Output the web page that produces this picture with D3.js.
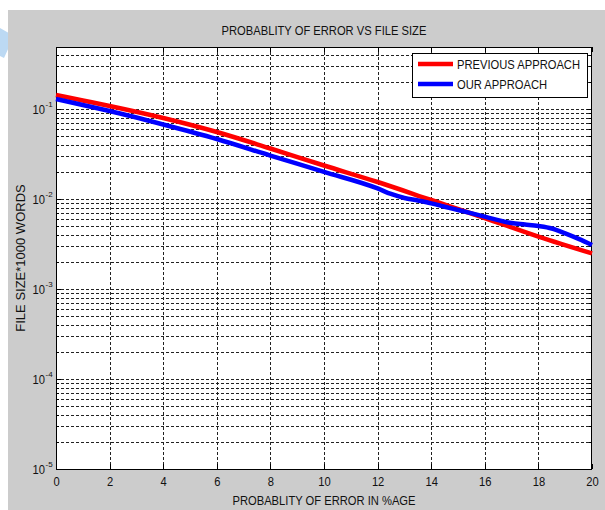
<!DOCTYPE html>
<html>
<head>
<meta charset="utf-8">
<script src="https://cdn.jsdelivr.net/npm/d3@7"></script>
<style>
  body { margin: 0; background: #fff; }
  svg text { font-family: "Liberation Sans", Arial, sans-serif; fill: #111; }
</style>
</head>
<body>
<script>
// values
const xPrev = [0, 1, 2, 4, 6, 8, 10, 12, 14, 16, 18, 20];
const yPrev = [0.1431, 0.1243, 0.108, 0.0794, 0.0555, 0.0364, 0.02357, 0.01545, 0.00975, 0.00615, 0.00383, 0.00249];
const xOur = [0, 1, 2, 4, 6, 8, 10, 12, 12.5, 13, 13.5, 14, 14.5, 15, 16, 17, 17.5, 18, 18.5, 19, 19.5, 20];
const yOur = [0.1291, 0.1108, 0.095, 0.0673, 0.0464, 0.0304, 0.02, 0.0131, 0.01137, 0.01026, 0.00962, 0.00895, 0.00821, 0.00755, 0.00637, 0.00541, 0.00521, 0.00501, 0.0047, 0.00414, 0.0036, 0.00308];
const seriesNames = ["PREVIOUS APPROACH", "OUR APPROACH"];
const seriesColors = ["#ff0000", "#0000ff"];
const xTicks = [0, 2, 4, 6, 8, 10, 12, 14, 16, 18, 20];
const yMajor = [1e-5, 1e-4, 1e-3, 1e-2, 1e-1];
const yExps = ["-5", "-4", "-3", "-2", "-1"];

const W = 605, H = 510;
const plotLeft = 56, plotRight = 592, plotTop = 47, plotBottom = 469;
const squeeze = 0.86;

const svg = d3.select("body").append("svg")
    .attr("width", W)
    .attr("height", H);

// figure background
svg.append("polygon").attr("points", "0,28 14,36 4,58 0,56").attr("fill", "#bcd9f3");
svg.append("rect").attr("x", 8).attr("y", 10).attr("width", W - 8).attr("height", H - 10).attr("fill", "#cccccc");

const x = d3.scaleLinear().domain([0, 20]).range([plotLeft, plotRight]);
const y = d3.scaleLog().domain([1e-5, Math.pow(10, -5 + (plotBottom - plotTop) / 90)]).range([plotBottom, plotTop]);

svg.append("rect")
    .attr("x", plotLeft).attr("y", plotTop)
    .attr("width", plotRight - plotLeft).attr("height", plotBottom - plotTop)
    .attr("fill", "#fff");

function condense(sel, f) {
    sel.each(function() {
        let len = this.getComputedTextLength();
        d3.select(this).attr("textLength", len * f).attr("lengthAdjust", "spacingAndGlyphs");
    });
}

// all log gridlines (majors + minors)
let yGrid = [];
for (let e = -5; e <= -1; e++) {
    for (let m = 1; m <= 9; m++) {
        let v = m * Math.pow(10, e);
        if (v <= y.domain()[1]) yGrid.push(v);
    }
}

svg.append("g").selectAll("line")
    .data(yGrid.filter(d => d > 1e-5))
    .enter().append("line")
    .attr("x1", plotLeft).attr("x2", plotRight)
    .attr("y1", d => Math.round(y(d)) + 0.5).attr("y2", d => Math.round(y(d)) + 0.5)
    .attr("stroke", "#222").attr("stroke-width", 1)
    .attr("stroke-dasharray", "3,2");

svg.append("g").selectAll("line")
    .data(xTicks.slice(1, -1))
    .enter().append("line")
    .attr("x1", d => Math.round(x(d)) + 0.5).attr("x2", d => Math.round(x(d)) + 0.5)
    .attr("y1", plotTop).attr("y2", plotBottom)
    .attr("stroke", "#222").attr("stroke-width", 1)
    .attr("stroke-dasharray", "3,2");

// tick marks, inside the box
let tickG = svg.append("g").attr("stroke", "#000").attr("stroke-width", 1);
xTicks.forEach(function(d) {
    let px = Math.round(x(d)) + 0.5;
    tickG.append("line").attr("x1", px).attr("x2", px).attr("y1", plotBottom).attr("y2", plotBottom - 5);
    tickG.append("line").attr("x1", px).attr("x2", px).attr("y1", plotTop).attr("y2", plotTop + 5);
});
yGrid.forEach(function(d) {
    let py = Math.round(y(d)) + 0.5;
    let len = yMajor.indexOf(d) >= 0 ? 5 : 3;
    tickG.append("line").attr("x1", plotLeft).attr("x2", plotLeft + len).attr("y1", py).attr("y2", py);
    tickG.append("line").attr("x1", plotRight).attr("x2", plotRight - len).attr("y1", py).attr("y2", py);
});

// x tick labels via axis
let xAxis = svg.append("g")
    .attr("transform", "translate(0," + plotBottom + ")")
    .call(d3.axisBottom(x).tickValues(xTicks).tickSize(0).tickPadding(8).tickFormat(d3.format("d")));
xAxis.select(".domain").remove();
xAxis.selectAll("text").attr("font-size", 13).attr("font-family", null).call(condense, squeeze);

// y tick labels 10^n : base and exponent as separate texts
let yLab = svg.append("g");
yLab.selectAll("text.base")
    .data(yMajor)
    .enter().append("text")
    .attr("class", "base")
    .attr("x", 45)
    .attr("y", d => y(d) + 5)
    .attr("text-anchor", "end")
    .attr("font-size", 13)
    .text("10")
    .call(condense, squeeze);
yLab.selectAll("text.exp")
    .data(yMajor)
    .enter().append("text")
    .attr("class", "exp")
    .attr("x", 45.5)
    .attr("y", d => y(d) - 2)
    .attr("font-size", 8)
    .text((d, i) => yExps[i]);

// box
svg.append("rect")
    .attr("x", plotLeft + 0.5).attr("y", plotTop + 0.5)
    .attr("width", plotRight - plotLeft - 1).attr("height", plotBottom - plotTop)
    .attr("fill", "none").attr("stroke", "#000").attr("stroke-width", 1);

// series
const line = d3.line().curve(d3.curveMonotoneX).x(d => x(d[0])).y(d => y(d[1]));
const series = [d3.zip(xPrev, yPrev), d3.zip(xOur, yOur)];
series.forEach(function(s, i) {
    svg.append("path")
        .datum(s)
        .attr("d", line)
        .attr("fill", "none")
        .attr("stroke", seriesColors[i])
        .attr("stroke-width", 4.5)
        .attr("stroke-linejoin", "round");
});

// title and axis labels
svg.append("text")
    .attr("x", (plotLeft + plotRight) / 2).attr("y", 35)
    .attr("text-anchor", "middle").attr("font-size", 13)
    .text("PROBABLITY OF ERROR VS FILE SIZE")
    .call(condense, squeeze);

svg.append("text")
    .attr("x", (plotLeft + plotRight) / 2).attr("y", 505)
    .attr("text-anchor", "middle").attr("font-size", 13)
    .text("PROBABLITY OF ERROR IN %AGE")
    .call(condense, squeeze);

svg.append("text")
    .attr("transform", "translate(25," + (plotTop + plotBottom) / 2 + ") rotate(-90)")
    .attr("text-anchor", "middle").attr("font-size", 13)
    .text("FILE SIZE*1000 WORDS");

// legend
let lg = svg.append("g");
lg.append("rect")
    .attr("x", 412.5).attr("y", 53.5).attr("width", 175).attr("height", 44)
    .attr("fill", "#fff").attr("stroke", "#000").attr("stroke-width", 1);
seriesNames.forEach(function(name, i) {
    let ly = 64 + i * 20;
    lg.append("line")
        .attr("x1", 418).attr("x2", 453).attr("y1", ly).attr("y2", ly)
        .attr("stroke", seriesColors[i]).attr("stroke-width", 4.5);
    lg.append("text")
        .attr("x", 457).attr("y", ly + 5)
        .attr("font-size", 13)
        .text(name)
        .call(condense, squeeze);
});
</script>
</body>
</html>
